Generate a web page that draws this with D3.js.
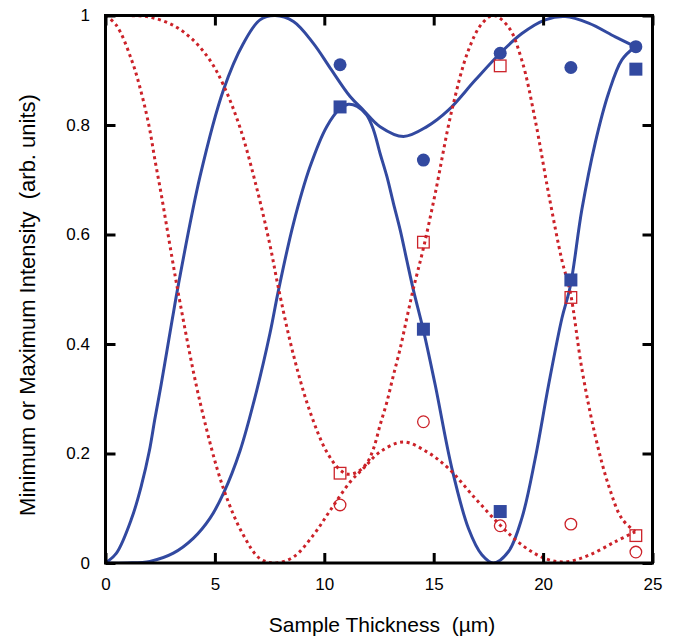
<!DOCTYPE html>
<html>
<head>
<meta charset="utf-8">
<script src="https://cdn.jsdelivr.net/npm/d3@7"></script>
<style>
  html, body { margin: 0; padding: 0; background: #fff; }
  svg { display: block; }
  text { font-family: "Liberation Sans", Arial, Helvetica, sans-serif; fill: #000; }
</style>
</head>
<body>
<svg id="chart" width="676" height="638"></svg>
<script>
// ---------- data ----------
// Solid blue curve 1 (rises from 0, max at ~7.8, dip ~13.6, max ~21)
const blue1X = [0, 0.5, 1.2, 1.65, 2.0, 2.26, 2.54, 2.80, 3.06, 3.33, 4.32, 5.39, 6.30, 7.06, 7.75, 8.59, 9.50, 10.27, 11.18, 11.79, 12.55, 13.62, 14.69, 15.67, 16.90, 18.04, 19.03, 20.10, 21.01, 22.08, 23.30, 24.21];
const blue1Y = [0, 0.018, 0.082, 0.143, 0.204, 0.264, 0.325, 0.386, 0.447, 0.508, 0.706, 0.864, 0.949, 0.992, 1.0, 0.989, 0.949, 0.904, 0.852, 0.827, 0.797, 0.779, 0.797, 0.827, 0.882, 0.931, 0.967, 0.992, 0.998, 0.986, 0.961, 0.943];
// Dotted red curve 1 (starts at 1)
const red1X = blue1X;
const red1Y = [1, 0.982, 0.918, 0.857, 0.796, 0.736, 0.675, 0.614, 0.553, 0.492, 0.294, 0.136, 0.051, 0.008, 0, 0.011, 0.051, 0.096, 0.148, 0.173, 0.203, 0.221, 0.203, 0.173, 0.118, 0.069, 0.033, 0.008, 0.002, 0.014, 0.039, 0.057];
// Solid blue curve 2 (flat start, peak ~11, zero ~17.7)
const blue2X = [0, 1.0, 2.03, 3.10, 4.01, 4.78, 5.39, 6.15, 6.91, 7.52, 7.90, 8.59, 9.35, 10.11, 10.72, 11.1, 11.5, 11.94, 12.25, 12.55, 12.86, 13.16, 13.47, 13.77, 14.07, 14.53, 15.07, 15.83, 16.59, 17.2, 17.73, 18.42, 19.03, 19.64, 20.25, 20.86, 21.24, 21.77, 22.38, 22.99, 23.6, 24.21];
const blue2Y = [0, 0, 0.003, 0.018, 0.045, 0.082, 0.127, 0.205, 0.315, 0.420, 0.497, 0.620, 0.724, 0.797, 0.830, 0.838, 0.834, 0.818, 0.791, 0.748, 0.706, 0.657, 0.608, 0.553, 0.499, 0.425, 0.325, 0.173, 0.063, 0.015, 0, 0.021, 0.082, 0.191, 0.325, 0.447, 0.505, 0.645, 0.767, 0.858, 0.919, 0.943];
// Dotted red curve 2 (flat at 1 at start)
const red2X = blue2X;
const red2Y = [1, 1, 0.997, 0.982, 0.955, 0.918, 0.873, 0.795, 0.685, 0.580, 0.503, 0.380, 0.276, 0.203, 0.170, 0.162, 0.166, 0.182, 0.209, 0.252, 0.294, 0.343, 0.392, 0.447, 0.501, 0.575, 0.675, 0.827, 0.937, 0.985, 1, 0.979, 0.918, 0.809, 0.675, 0.553, 0.495, 0.355, 0.233, 0.142, 0.081, 0.057];

// Measured points
const sampleX       = [10.72, 14.53, 18.04, 21.27, 24.24];
const blueCircleY   = [0.910, 0.736, 0.931, 0.905, 0.943];
const blueSquareY   = [0.833, 0.427, 0.094, 0.517, 0.902];
const redSquareY    = [0.164, 0.586, 0.908, 0.485, 0.050];
const redCircleY    = [0.106, 0.258, 0.068, 0.071, 0.020];

const xTicks = [0, 5, 10, 15, 20, 25];
const yTicks = [0, 0.2, 0.4, 0.6, 0.8, 1];
const xTitle = "Sample Thickness\u00a0\u00a0(\u00b5m)";
const yTitle = "Minimum or Maximum Intensity\u00a0\u00a0(arb. units)";

// ---------- drawing ----------
const BLUE = "#3249a0";
const RED = "#cc2229";
const svg = d3.select("#chart");
const x = d3.scaleLinear().domain([0, 25]).range([105.5, 652.5]);
const y = d3.scaleLinear().domain([0, 1]).range([563, 15.5]);

const zip = (xs, ys) => xs.map((v, i) => [v, ys[i]]);
const line = d3.line().x(d => x(d[0])).y(d => y(d[1])).curve(d3.curveCatmullRom.alpha(0.5));

svg.append("clipPath").attr("id", "plotclip").append("rect")
  .attr("x", x(0)).attr("y", y(1) - 2).attr("width", x(25) - x(0)).attr("height", y(0) - y(1) + 2);

const curves = svg.append("g").attr("clip-path", "url(#plotclip)");
[[blue1X, blue1Y], [blue2X, blue2Y]].forEach(([xs, ys]) => {
  curves.append("path").attr("d", line(zip(xs, ys)))
    .attr("fill", "none").attr("stroke", BLUE).attr("stroke-width", 3);
});
[[red1X, red1Y], [red2X, red2Y]].forEach(([xs, ys]) => {
  curves.append("path").attr("d", line(zip(xs, ys)))
    .attr("fill", "none").attr("stroke", RED).attr("stroke-width", 3)
    .attr("stroke-dasharray", "3,3.6");
});

// markers
const mk = svg.append("g");
mk.selectAll(".bc").data(zip(sampleX, blueCircleY)).join("circle")
  .attr("cx", d => x(d[0])).attr("cy", d => y(d[1])).attr("r", 6.5).attr("fill", BLUE);
mk.selectAll(".bs").data(zip(sampleX, blueSquareY)).join("rect")
  .attr("x", d => x(d[0]) - 6.5).attr("y", d => y(d[1]) - 6.5)
  .attr("width", 13).attr("height", 13).attr("fill", BLUE);
mk.selectAll(".rs").data(zip(sampleX, redSquareY)).join("rect")
  .attr("x", d => x(d[0]) - 5.8).attr("y", d => y(d[1]) - 5.8)
  .attr("width", 11.6).attr("height", 11.6).attr("fill", "none")
  .attr("stroke", RED).attr("stroke-width", 1.3);
mk.selectAll(".rc").data(zip(sampleX, redCircleY)).join("circle")
  .attr("cx", d => x(d[0])).attr("cy", d => y(d[1])).attr("r", 5.8)
  .attr("fill", "none").attr("stroke", RED).attr("stroke-width", 1.3);

// axes (inward ticks on all four sides)
const fmtY = d => (d === 0 ? "0" : d === 1 ? "1" : d3.format(".1f")(d));
const styleAxis = g => {
  g.select(".domain").remove();
  g.selectAll(".tick line").attr("stroke", "#000").attr("stroke-width", 3);
  g.selectAll(".tick text").attr("font-size", 17).attr("font-family", "Liberation Sans, Arial, sans-serif").attr("fill", "#000");
};
svg.append("g").attr("transform", `translate(0,${y(0)})`)
  .call(d3.axisBottom(x).tickValues(xTicks).tickSizeInner(-10).tickSizeOuter(0).tickPadding(15))
  .call(styleAxis);
svg.append("g").attr("transform", `translate(0,${y(1)})`)
  .call(d3.axisTop(x).tickValues(xTicks).tickSizeInner(-10).tickSizeOuter(0).tickFormat(""))
  .call(styleAxis);
svg.append("g").attr("transform", `translate(${x(0)},0)`)
  .call(d3.axisLeft(y).tickValues(yTicks).tickFormat(fmtY).tickSizeInner(-10).tickSizeOuter(0).tickPadding(15.5))
  .call(styleAxis);
svg.append("g").attr("transform", `translate(${x(25)},0)`)
  .call(d3.axisRight(y).tickValues(yTicks).tickSizeInner(-10).tickSizeOuter(0).tickFormat(""))
  .call(styleAxis);

// frame
svg.append("rect")
  .attr("x", x(0)).attr("y", y(1))
  .attr("width", x(25) - x(0)).attr("height", y(0) - y(1))
  .attr("fill", "none").attr("stroke", "#000").attr("stroke-width", 3);

// titles
svg.append("text").attr("x", (x(0) + x(25)) / 2 + 3).attr("y", 631.5)
  .attr("text-anchor", "middle").attr("font-size", 21).text(xTitle);
svg.append("text").attr("transform", "translate(35,305) rotate(-90)")
  .attr("text-anchor", "middle").attr("font-size", 22).text(yTitle);
</script>
</body>
</html>
